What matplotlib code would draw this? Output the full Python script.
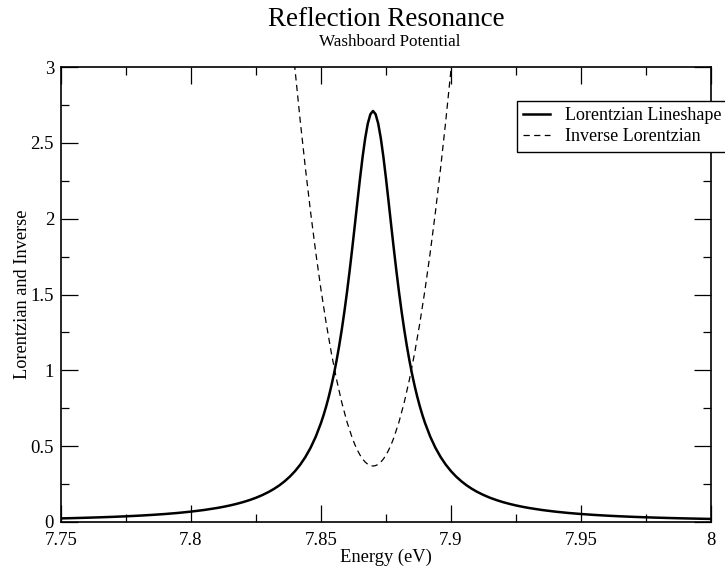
import matplotlib
matplotlib.use("Agg")
import matplotlib.pyplot as plt
from matplotlib.ticker import MultipleLocator

# Lorentzian lineshape
energy_L = [7.75, 7.755, 7.76, 7.765, 7.77, 7.775, 7.78, 7.785, 7.79, 7.795, 7.80, 7.805,
            7.81, 7.8125, 7.815, 7.8175, 7.82, 7.8225, 7.825, 7.8275,
            7.83, 7.832, 7.834, 7.836, 7.838, 7.840, 7.842, 7.844, 7.846, 7.848,
            7.850, 7.851, 7.852, 7.853, 7.854, 7.855, 7.856, 7.857, 7.858, 7.859,
            7.860, 7.861, 7.862, 7.863, 7.864, 7.865, 7.866, 7.867, 7.868, 7.869,
            7.870,
            7.871, 7.872, 7.873, 7.874, 7.875, 7.876, 7.877, 7.878, 7.879, 7.880,
            7.881, 7.882, 7.883, 7.884, 7.885, 7.886, 7.887, 7.888, 7.889, 7.890,
            7.892, 7.894, 7.896, 7.898, 7.900, 7.902, 7.904, 7.906, 7.908, 7.910,
            7.9125, 7.915, 7.9175, 7.92, 7.9225, 7.925, 7.9275, 7.93,
            7.935, 7.94, 7.945, 7.95, 7.955, 7.96, 7.965, 7.97, 7.975, 7.98, 7.985,
            7.99, 7.995, 8.00]
lorentz = [0.0237, 0.0258, 0.0282, 0.0309, 0.0340, 0.0376, 0.0418, 0.0468, 0.0527, 0.0598, 0.0685, 0.0791,
           0.0924, 0.1003, 0.1092, 0.1194, 0.1310, 0.1444, 0.1599, 0.1781,
           0.1993, 0.2191, 0.2419, 0.2683, 0.2990, 0.3351, 0.3778, 0.4286, 0.4896, 0.5633,
           0.6531, 0.7053, 0.7631, 0.8273, 0.8986, 0.9778, 1.0655, 1.1627, 1.2700, 1.3878,
           1.5162, 1.6547, 1.8019, 1.9555, 2.1115, 2.2643, 2.4068, 2.5307, 2.6273, 2.6888,
           2.7100,
           2.6888, 2.6273, 2.5307, 2.4068, 2.2643, 2.1115, 1.9555, 1.8019, 1.6547, 1.5162,
           1.3878, 1.2700, 1.1627, 1.0655, 0.9778, 0.8986, 0.8273, 0.7631, 0.7053, 0.6531,
           0.5633, 0.4896, 0.4286, 0.3778, 0.3351, 0.2990, 0.2683, 0.2419, 0.2191, 0.1993,
           0.1781, 0.1599, 0.1444, 0.1310, 0.1194, 0.1092, 0.1003, 0.0924,
           0.0791, 0.0685, 0.0598, 0.0527, 0.0468, 0.0418, 0.0376, 0.0340, 0.0309, 0.0282, 0.0258,
           0.0237, 0.0219, 0.0202]

# Inverse Lorentzian
energy_I = [7.839, 7.840, 7.842, 7.844, 7.846, 7.848, 7.850, 7.852, 7.854, 7.856,
            7.858, 7.860, 7.862, 7.863, 7.864, 7.865, 7.866, 7.867, 7.868, 7.869,
            7.870,
            7.871, 7.872, 7.873, 7.874, 7.875, 7.876, 7.877, 7.878, 7.880, 7.882,
            7.884, 7.886, 7.888, 7.890, 7.892, 7.894, 7.896, 7.898, 7.900, 7.901]
inverse = [3.1612, 2.9840, 2.6470, 2.3332, 2.0426, 1.7753, 1.5312, 1.3104, 1.1128, 0.9385,
           0.7874, 0.6596, 0.5550, 0.5114, 0.4736, 0.4416, 0.4155, 0.3952, 0.3806, 0.3719,
           0.3690,
           0.3719, 0.3806, 0.3952, 0.4155, 0.4416, 0.4736, 0.5114, 0.5550, 0.6596, 0.7874,
           0.9385, 1.1128, 1.3104, 1.5312, 1.7753, 2.0426, 2.3332, 2.6470, 2.9840, 3.1612]

xticks = [7.75, 7.8, 7.85, 7.9, 7.95, 8.0]
xticklabels = ["7.75", "7.8", "7.85", "7.9", "7.95", "8"]
yticks = [0, 0.5, 1, 1.5, 2, 2.5, 3]
yticklabels = ["0", "0.5", "1", "1.5", "2", "2.5", "3"]

plt.rcParams['font.family'] = ['Liberation Serif', 'DejaVu Serif']

fig = plt.figure(figsize=(7.25, 5.67), dpi=100)
ax = fig.add_axes([61/725, 1-522/567, (711-61)/725, (522-67)/567])

ax.plot(energy_L, lorentz, color='black', lw=1.8, label='Lorentzian Lineshape')
ax.plot(energy_I, inverse, color='black', lw=0.9, dashes=(5, 3.5), label='Inverse Lorentzian')

ax.set_xlim(7.75, 8.0)
ax.set_ylim(0, 3)
ax.set_xticks(xticks)
ax.set_xticklabels(xticklabels)
ax.set_yticks(yticks)
ax.set_yticklabels(yticklabels)
ax.xaxis.set_minor_locator(MultipleLocator(0.025))
ax.yaxis.set_minor_locator(MultipleLocator(0.25))
ax.tick_params(which='both', direction='in', top=True, right=True, labelsize=13.5, width=0.9)
ax.tick_params(which='major', length=12)
ax.tick_params(which='minor', length=6)
ax.tick_params(axis='x', which='major', pad=7)
ax.tick_params(axis='y', which='major', pad=5)
for s in ax.spines.values():
    s.set_linewidth(1.2)

ax.set_xlabel('Energy (eV)', fontsize=13.3, labelpad=0)
ax.set_ylabel('Lorentzian and Inverse', fontsize=13.2, labelpad=0)

fig.text(386/725, 1-20/567, 'Reflection Resonance', ha='center', va='center', fontsize=19.5)
fig.text(390/725, 1-42/567, 'Washboard Potential', ha='center', va='center', fontsize=12.3)

leg = ax.legend(loc='upper left', bbox_to_anchor=(517/725, 1-101/567),
                bbox_transform=fig.transFigure, fontsize=13, frameon=True,
                fancybox=False, borderpad=0.35, handlelength=1.5, handletextpad=0.8,
                labelspacing=0.22, borderaxespad=0)
leg.get_frame().set_edgecolor('black')
leg.get_frame().set_linewidth(1.0)
leg.get_frame().set_alpha(1)

fig.savefig('out.png', dpi=100)
